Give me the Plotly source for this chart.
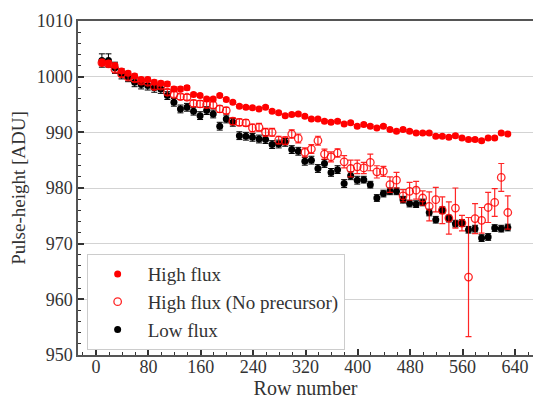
import plotly.graph_objects as go

rows = [9, 19, 29, 39, 49, 59, 69, 79, 89, 99,
        109, 119, 129, 139, 149, 159, 169, 179, 189, 199,
        209, 219, 229, 239, 249, 259, 269, 279, 289, 299,
        309, 319, 329, 339, 349, 359, 369, 379, 389, 399,
        409, 419, 429, 439, 449, 459, 469, 479, 489, 499,
        509, 519, 529, 539, 549, 559, 569, 579, 589, 599,
        609, 619, 629]

high_flux = [1002.5, 1002.4, 1002.0, 1001.0, 1000.6, 1000.1, 999.5, 999.5, 999.0, 998.8,
             998.7, 997.8, 997.8, 998.0, 996.8, 996.6, 996.0, 996.0, 996.6, 995.9,
             995.4, 994.7, 994.5, 994.4, 994.2, 994.5, 993.8, 993.5, 993.0, 993.2,
             993.3, 992.9, 992.4, 992.4, 992.0, 991.8, 992.0, 991.5, 991.7, 991.1,
             991.4, 991.1, 990.8, 991.1, 990.5, 990.2, 990.5, 990.2, 989.9, 989.9,
             989.9, 989.3, 989.3, 989.1, 989.4, 989.0, 988.7, 988.7, 988.5, 989.0,
             989.0, 989.9, 989.7]
high_flux_err = [0.5, 0.5, 0.4, 0.4, 0.4, 0.4, 0.4, 0.4, 0.4, 0.4,
                 0.4, 0.4, 0.4, 0.4, 0.3, 0.3, 0.3, 0.3, 0.3, 0.3,
                 0.3, 0.3, 0.3, 0.3, 0.3, 0.3, 0.3, 0.3, 0.3, 0.3,
                 0.3, 0.3, 0.3, 0.3, 0.3, 0.3, 0.3, 0.3, 0.3, 0.3,
                 0.3, 0.3, 0.3, 0.3, 0.3, 0.3, 0.3, 0.3, 0.3, 0.3,
                 0.3, 0.3, 0.3, 0.3, 0.3, 0.3, 0.3, 0.3, 0.3, 0.3,
                 0.3, 0.3, 0.3]

no_precursor = [1002.5, 1002.3, 1001.3, 1000.5, 999.9, 999.6, 999.2, 999.0, 998.2, 998.3,
                997.2, 996.8, 996.4, 996.3, 995.2, 995.1, 995.0, 994.9, 994.2, 993.9,
                992.0, 991.8, 991.7, 990.8, 990.9, 990.0, 990.0, 988.6, 988.5, 989.7,
                988.9, 986.4, 987.0, 988.5, 986.1, 985.6, 986.3, 984.7, 983.5, 983.8,
                983.6, 984.6, 982.9, 983.0, 980.6, 981.4, 978.6, 979.4, 979.6, 978.2,
                976.7, 977.9, 976.0, 974.6, 976.4, 973.7, 964.0, 974.5, 974.2, 976.5,
                977.4, 981.9, 975.6]
no_precursor_err = [0.5, 0.5, 0.5, 0.5, 0.5, 0.5, 0.5, 0.5, 0.5, 0.5,
                    0.5, 0.5, 0.5, 0.5, 0.6, 0.6, 0.6, 0.6, 0.6, 0.6,
                    0.6, 0.6, 0.6, 0.7, 0.7, 0.7, 0.7, 0.7, 0.7, 0.75,
                    0.8, 0.8, 0.8, 0.8, 0.9, 0.9, 0.75, 1.1, 1.5, 1.2,
                    1.0, 1.5, 1.1, 0.9, 1.4, 1.4, 1.1, 1.6, 1.6, 1.3,
                    2.6, 2.2, 2.4, 2.9, 3.6, 1.4, 10.7, 2.7, 2.3, 2.7,
                    2.5, 2.5, 3.0]

low_flux = [1002.9, 1002.9, 1001.6, 1000.5, 1000.0, 999.0, 998.6, 998.4, 998.0, 997.8,
            996.6, 995.4, 994.2, 994.5, 993.8, 993.0, 993.9, 993.3, 991.1, 992.4,
            991.8, 989.4, 989.3, 989.1, 988.8, 988.7, 987.8, 987.9, 988.2, 986.9,
            986.6, 984.8, 985.0, 983.5, 984.4, 982.8, 983.3, 980.8, 982.2, 981.4,
            981.5, 980.6, 978.2, 979.0, 979.4, 979.4, 977.9, 977.2, 977.1, 977.4,
            975.6, 974.3, 976.0, 974.5, 973.6, 973.7, 972.5, 972.7, 971.0, 971.2,
            972.8, 972.7, 972.9]
low_flux_err = [1.2, 1.2, 1.0, 0.9, 0.9, 0.8, 0.8, 0.8, 0.8, 0.8,
                0.7, 0.7, 0.7, 0.7, 0.7, 0.7, 0.7, 0.7, 0.7, 0.7,
                0.7, 0.7, 0.7, 0.7, 0.7, 0.7, 0.7, 0.7, 0.7, 0.7,
                0.7, 0.7, 0.7, 0.7, 0.7, 0.7, 0.7, 0.7, 0.7, 0.7,
                0.6, 0.6, 0.6, 0.6, 0.6, 0.6, 0.6, 0.6, 0.6, 0.6,
                0.6, 0.6, 0.6, 0.6, 0.6, 0.6, 0.6, 0.6, 0.6, 0.6,
                0.6, 0.6, 0.6]

x_ticks = [0, 80, 160, 240, 320, 400, 480, 560, 640]
y_ticks = [950, 960, 970, 980, 990, 1000, 1010]

FONT = "Liberation Serif"

fig = go.Figure()

fig.add_trace(go.Scatter(
    x=rows, y=low_flux, mode="markers", name="Low flux", legendrank=3,
    marker=dict(color="black", size=7, symbol="circle"),
    error_y=dict(type="data", array=low_flux_err, color="black", thickness=1, width=3),
))
fig.add_trace(go.Scatter(
    x=rows, y=no_precursor, mode="markers", name="High flux (No precursor)", legendrank=2,
    marker=dict(color="rgba(255,0,0,0.85)", size=7.5, symbol="circle-open",
                line=dict(width=1.3)),
    error_y=dict(type="data", array=no_precursor_err, color="rgba(255,0,0,0.85)",
                 thickness=1.2, width=3),
))
fig.add_trace(go.Scatter(
    x=rows, y=high_flux, mode="markers", name="High flux", legendrank=1,
    marker=dict(color="#ff0000", size=7, symbol="circle"),
    error_y=dict(type="data", array=high_flux_err, color="#ff0000", thickness=1, width=3),
))

fig.update_layout(
    width=533, height=399,
    margin=dict(l=78, r=0, t=21, b=44, autoexpand=False),
    paper_bgcolor="white", plot_bgcolor="white",
    font=dict(family=FONT, size=18, color="#333333"),
    showlegend=True,
    legend=dict(
        x=0.019, y=0.302, xanchor="left", yanchor="top",
        bgcolor="white", bordercolor="#cccccc", borderwidth=1,
        font=dict(family=FONT, size=19, color="#333333"),
        itemwidth=50, tracegroupgap=0,
    ),
)

fig.update_xaxes(
    range=[-27.5, 667.5], automargin=False,
    tickmode="array", tickvals=x_ticks, ticktext=[str(v) for v in x_ticks],
    ticks="inside", ticklen=6, tickwidth=1.5, tickcolor="#333333",
    ticklabelstandoff=-5,
    minor=dict(ticks="inside", ticklen=3, tickwidth=1, tickcolor="#333333", dtick=20, showgrid=False),
    showline=True, linecolor="#555555", linewidth=1.5, mirror=True,
    showgrid=False, zeroline=False,
    title=dict(text="Row number", font=dict(family=FONT, size=20), standoff=8),
    tickfont=dict(family=FONT, size=18),
)
fig.update_yaxes(
    range=[950, 1010], automargin=False,
    tickmode="array", tickvals=y_ticks, ticktext=[str(v) for v in y_ticks],
    ticks="inside", ticklen=6, tickwidth=1.5, tickcolor="#333333",
    minor=dict(ticks="inside", ticklen=3, tickwidth=1, tickcolor="#333333", dtick=2, showgrid=False),
    showline=True, linecolor="#555555", linewidth=1.5, mirror=True,
    showgrid=True, gridcolor="#d3d3d3", gridwidth=1.2,
    zeroline=False,
    title=dict(text="Pulse-height [ADU]", font=dict(family=FONT, size=19), standoff=6),
    tickfont=dict(family=FONT, size=18),
)

fig.write_html("out.html", config={"displayModeBar": False},
               post_script="document.body.style.margin='0px';")
